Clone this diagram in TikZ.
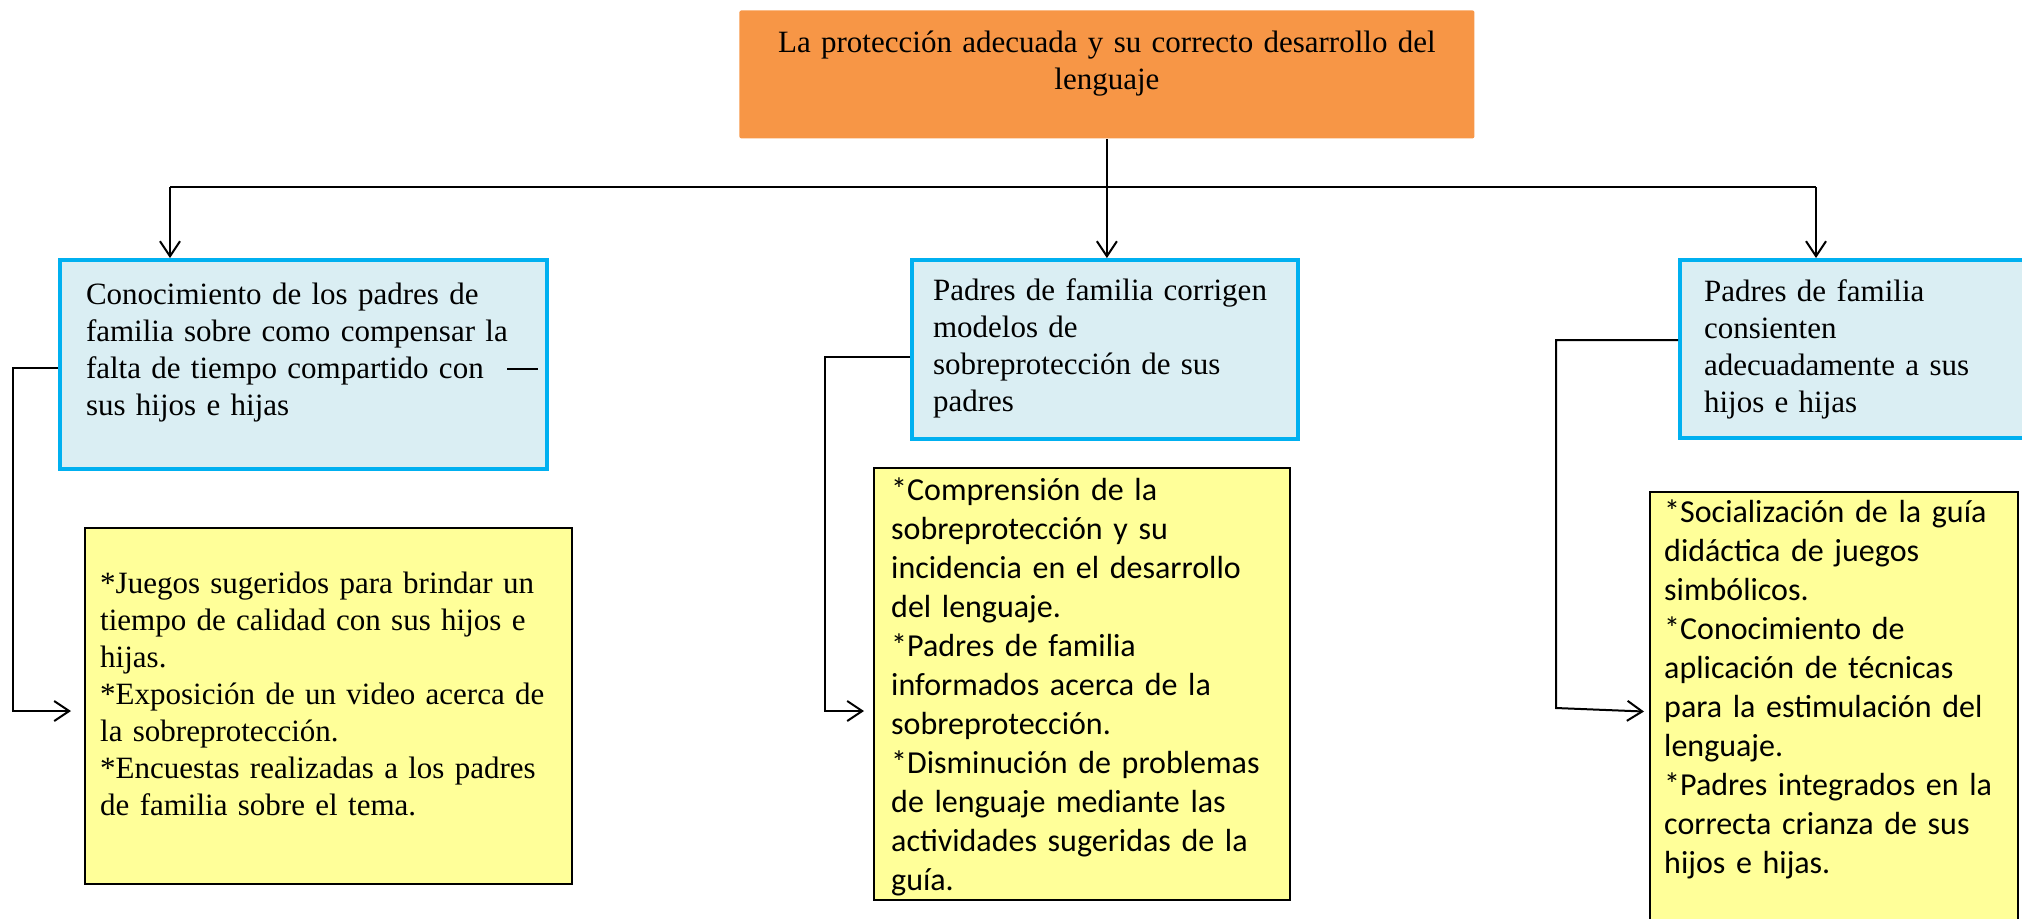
\documentclass[tikz,border=0pt]{standalone}
\usepackage{fontspec}
\setmainfont{Liberation Serif}
\newfontfamily\calibri{Carlito}
\usetikzlibrary{arrows.meta}
\definecolor{naranja}{HTML}{F79646}
\definecolor{celeste}{HTML}{00B0F0}
\definecolor{celestefill}{HTML}{DAEEF3}
\definecolor{amarillo}{HTML}{FFFF99}
\tikzset{
    mytitle/.style = {rectangle, anchor=north west, fill=naranja, rounded corners=1pt, inner sep=0pt, align=center, font=\fontsize{15.5}{18.5}\selectfont},
    myblue/.style = {rectangle, anchor=north west, draw=celeste, line width=2pt, fill=celestefill, inner ysep=0pt, align=left, font=\fontsize{15.5}{18.5}\selectfont},
    myyellow/.style = {rectangle, anchor=north west, draw=black, line width=1.2pt, fill=amarillo, inner ysep=0pt, align=left, font=\fontsize{15.5}{18.5}\selectfont},
    myyellows/.style = {myyellow, font=\calibri\fontsize{16}{19.5}\selectfont},
    edgel/.style = {line width=1pt},
    edgen/.style = {-{Straight Barb[length=7.5pt,width=10pt]}, line width=1pt},
}

\begin{document}
\begin{tikzpicture}[x=0.5pt, y=-0.5pt]
\useasboundingbox (0, 0) rectangle (2022, 918);

\node[mytitle, text width=367.5pt, text height=21pt, text depth=43pt] at (739, 10) (title) {La protección adecuada y su correcto desarrollo del\\ lenguaje};
%
\node[myblue, inner xsep=13pt, text width=217.5pt, text height=22pt, text depth=82.5pt] at (58, 258) (b1) {Conocimiento de los padres de\\ familia sobre como compensar la\\ falta de tiempo compartido con\\ sus hijos e hijas};
\node[myblue, inner xsep=10.5pt, text width=172pt, text height=20pt, text depth=69.5pt] at (910, 258) (b2) {Padres de familia corrigen\\ modelos de\\ sobreprotección de sus\\ padres};
\node[myblue, inner xsep=12pt, text width=162pt, text height=20.5pt, text depth=68.5pt] at (1678, 258) (b3) {Padres de familia\\ consienten\\ adecuadamente a sus\\ hijos e hijas};
%
\node[myyellow, inner xsep=7.5pt, text width=228.5pt, text height=32.5pt, text depth=145.5pt] at (84, 527) (y1) {{*}Juegos sugeridos para brindar un\\ tiempo de calidad con sus hijos e\\ hijas.\\ {*}Exposición de un video acerca de\\ la sobreprotección.\\ {*}Encuestas realizadas a los padres\\ de familia sobre el tema.};
\node[myyellows, inner xsep=8.5pt, text width=191pt, text height=16pt, text depth=200pt] at (873, 467) (y2) {{*}Comprensión de la\\ sobreprotección y su\\ incidencia en el desarrollo\\ del lenguaje.\\ {*}Padres de familia\\ informados acerca de la\\ sobreprotección.\\ {*}Disminución de problemas\\ de lenguaje mediante las\\ actividades sugeridas de la\\ guía.};
\node[myyellows, inner xsep=7pt, text width=170pt, text height=15pt, text depth=204.5pt] at (1649, 491) (y3) {{*}Socialización de la guía\\ didáctica de juegos\\ simbólicos.\\ {*}Conocimiento de\\ aplicación de técnicas\\ para la estimulación del\\ lenguaje.\\ {*}Padres integrados en la\\ correcta crianza de sus\\ hijos e hijas.};
%
\coordinate (ha) at (170, 187);
\coordinate (hb) at (1816, 187);
\coordinate (k1) at (13, 711);
\coordinate (k2) at (825, 711);
\coordinate (k3) at (1556, 708);
%
\draw[edgen] (title.south) -- (title.south |- b2.north);
\draw[edgel] (ha) -- (hb);
\draw[edgen] (ha) -- (ha |- b1.north);
\draw[edgen] (hb) -- (hb |- b3.north);
\draw[edgel] ([shift={(-42, 4.5)}]b1.east) -- ++(31, 0);
%
\draw[edgen, shorten >=6.5pt] ([yshift=-1.75pt]b1.west) -| (k1) -- (k1 -| y1.west);
\draw[edgen, shorten >=4.5pt] ([yshift=-3.75pt]b2.west) -| (k2) -- (k2 -| y2.west);
\draw[edgen, shorten >=2.5pt] ([yshift=4.5pt]b3.west) -| (k3) -- (y3.west);

\end{tikzpicture}
\end{document}
